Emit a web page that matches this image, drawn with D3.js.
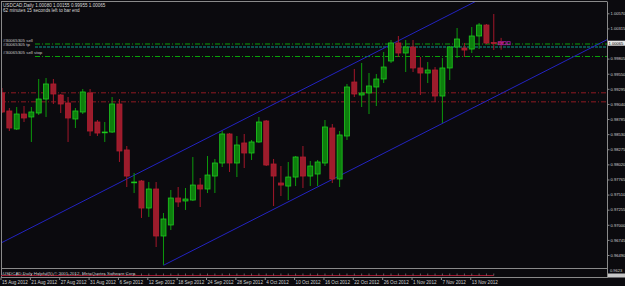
<!DOCTYPE html>
<html>
<head>
<meta charset="utf-8">
<script src="https://cdn.jsdelivr.net/npm/d3@7"></script>
<style>
  body { margin: 0; background: #000; }
  text { font-family: "Liberation Sans", Arial, sans-serif; }
</style>
</head>
<body>
<div id="chart"></div>
<script>
// daily bars, 15 Aug 2012 .. 19 Nov 2012
const dates = [
  "2012-08-15","2012-08-16","2012-08-17","2012-08-20","2012-08-21","2012-08-22","2012-08-23","2012-08-24","2012-08-27","2012-08-28",
  "2012-08-29","2012-08-30","2012-08-31","2012-09-03","2012-09-04","2012-09-05","2012-09-06","2012-09-07","2012-09-10","2012-09-11",
  "2012-09-12","2012-09-13","2012-09-14","2012-09-17","2012-09-18","2012-09-19","2012-09-20","2012-09-21","2012-09-24","2012-09-25",
  "2012-09-26","2012-09-27","2012-09-28","2012-10-01","2012-10-02","2012-10-03","2012-10-04","2012-10-05","2012-10-08","2012-10-09",
  "2012-10-10","2012-10-11","2012-10-12","2012-10-15","2012-10-16","2012-10-17","2012-10-18","2012-10-19","2012-10-22","2012-10-23",
  "2012-10-24","2012-10-25","2012-10-26","2012-10-29","2012-10-30","2012-10-31","2012-11-01","2012-11-02","2012-11-05","2012-11-06",
  "2012-11-07","2012-11-08","2012-11-09","2012-11-12","2012-11-13","2012-11-14","2012-11-15","2012-11-16","2012-11-19"
];
const open = [
  0.99225,0.98921,0.98617,0.98870,0.98820,0.98887,0.99123,0.99377,0.99191,0.99056,
  0.98786,0.98904,0.99225,0.98735,0.98558,0.98566,0.99039,0.98263,0.97714,0.97739,
  0.97283,0.97604,0.96811,0.96997,0.97452,0.97402,0.97418,0.97671,0.97604,0.97823,
  0.98043,0.98533,0.98043,0.98381,0.98212,0.98398,0.98752,0.98026,0.97705,0.97654,
  0.97806,0.98144,0.97823,0.97857,0.98043,0.98634,0.97773,0.98499,0.99410,0.99191,
  0.99225,0.99326,0.99461,0.99765,1.00069,0.99900,1.00001,0.99647,0.99562,0.99613,
  0.99174,0.99647,1.00001,0.99984,0.99967,1.00187,1.00372,1.00077,1.00080
];
const high = [
  0.99309,0.98971,0.98988,0.99005,0.98988,0.99461,0.99478,0.99461,0.99208,0.99157,
  0.98971,0.99292,0.99292,0.98769,0.98735,0.99157,0.99123,0.98330,0.97874,0.97756,
  0.97722,0.97722,0.97199,0.97587,0.97638,0.97621,0.98144,0.97790,0.98161,0.98111,
  0.98583,0.98549,0.98499,0.98533,0.98431,0.98820,0.98769,0.98111,0.97992,0.98060,
  0.98161,0.98330,0.98077,0.98094,0.98769,0.98701,0.98583,0.99377,0.99630,0.99731,
  0.99562,0.99545,0.99917,1.00119,1.00187,1.00119,1.00119,0.99832,0.99748,0.99663,
  0.99815,1.00018,1.00322,1.00069,1.00339,1.00406,1.00389,1.00558,1.00155
];
const low = [
  0.98887,0.98583,0.98600,0.98735,0.98398,0.98853,0.98820,0.99039,0.98887,0.98398,
  0.98634,0.98870,0.98499,0.98499,0.98398,0.98549,0.98060,0.97638,0.97536,0.97115,
  0.97132,0.96625,0.96322,0.96912,0.97300,0.97250,0.97402,0.97300,0.97536,0.97536,
  0.97975,0.97891,0.97806,0.97958,0.98094,0.98381,0.97992,0.97317,0.97486,0.97418,
  0.97654,0.97621,0.97654,0.97654,0.97992,0.97705,0.97638,0.98431,0.99157,0.98988,
  0.98870,0.99005,0.99393,0.99731,0.99832,0.99579,0.99579,0.99191,0.99393,0.99073,
  0.98718,0.99444,0.99815,0.99832,0.99900,0.99967,1.00052,0.99950,0.99955
];
const close = [
  0.98904,0.98634,0.98870,0.98803,0.98904,0.99123,0.99377,0.99208,0.99039,0.98803,
  0.98921,0.99242,0.98583,0.98549,0.98566,0.99039,0.98246,0.97823,0.97722,0.97283,
  0.97604,0.96811,0.97098,0.97452,0.97385,0.97435,0.97671,0.97604,0.97840,0.98043,
  0.98533,0.98043,0.98347,0.98212,0.98398,0.98735,0.98009,0.97823,0.97671,0.97806,
  0.98144,0.97823,0.97992,0.98060,0.98651,0.97773,0.98516,0.99326,0.99208,0.99225,
  0.99343,0.99461,0.99663,1.00069,0.99900,1.00001,0.99647,0.99562,0.99613,0.99174,
  0.99647,1.00001,1.00136,0.99950,1.00187,1.00372,1.00069,1.00060,1.00065
];

// price axis labels (right side)
const priceTicks = [1.00570,1.00315,1.00060,0.99805,0.99550,0.99295,0.99040,0.98785,0.98530,
                    0.98275,0.98020,0.97765,0.97510,0.97255,0.97000,0.96745,0.96490];
// time axis labels
const dateTicks = ["2012-08-15","2012-08-21","2012-08-27","2012-08-31","2012-09-06","2012-09-12",
                   "2012-09-18","2012-09-24","2012-09-28","2012-10-04","2012-10-10","2012-10-16",
                   "2012-10-22","2012-10-26","2012-11-01","2012-11-07","2012-11-13"];

// order lines
const orderNames  = ["#30065305 sell", "#30065305 tp", "#30065305 sell stop"];
const orderPrices = [1.00060, 1.00010, 0.99849];
// red level lines
const levelPrices = [0.99236, 0.99084];
// channel lines: [date, price] pairs
const upperChannel = [["2012-08-15", 0.96701], ["2012-11-13", 1.00737]];
const lowerChannel = [["2012-09-14", 0.96316], ["2012-11-19", 0.99215]];

const header1 = "USDCAD,Daily  1.00080 1.00155 0.99955 1.00065";
const header2 = "62 minutes 15 seconds left to bar end";
const lastPrice = 1.00065;

const width = 625, height = 286;
const plotLeft = 1, plotRight = 607, plotTop = 2, plotBottom = 268;

const svg = d3.select("#chart").append("svg")
  .attr("width", width).attr("height", height);

svg.append("rect").attr("width", width).attr("height", height).attr("fill", "#0b0a0e");

// x: one band per trading day, 7.34px step
const step = 7.34;
const x = d3.scaleBand()
  .domain(dates)
  .range([2 - step / 2, 2 - step / 2 + step * dates.length])
  .padding(0);
const cx = d => x(d) + x.bandwidth() / 2;

// y from the label positions
const y = d3.scaleLinear()
  .domain([priceTicks[priceTicks.length - 1], priceTicks[0]])
  .range([255, 13.3]);

svg.append("clipPath").attr("id", "plotclip")
  .append("rect").attr("x", plotLeft).attr("y", plotTop)
  .attr("width", plotRight - plotLeft).attr("height", plotBottom - plotTop);

const plot = svg.append("g").attr("clip-path", "url(#plotclip)");

// red levels
plot.selectAll(".lvl").data(levelPrices).enter().append("line")
  .attr("x1", plotLeft).attr("x2", plotRight)
  .attr("y1", d => y(d) + 0.5).attr("y2", d => y(d) + 0.5)
  .attr("stroke", "#8e1a22").attr("stroke-width", 1)
  .attr("stroke-dasharray", "5,2,1,2");

// order lines
const orderColors = ["#08a008", "#0a6a60", "#08a008"];
const orderDash = ["5,2,1,2", "3,1", "5,2,1,2"];
plot.selectAll(".ord").data(orderPrices).enter().append("line")
  .attr("x1", 35).attr("x2", plotRight)
  .attr("y1", d => y(d) + 0.5).attr("y2", d => y(d) + 0.5)
  .attr("stroke", (d, i) => orderColors[i])
  .attr("stroke-width", (d, i) => i === 1 ? 1.5 : 1)
  .attr("stroke-dasharray", (d, i) => orderDash[i]);

svg.selectAll(".ordtxt").data(orderNames).enter().append("text")
  .attr("x", 3).attr("y", (d, i) => [42, 46, 54][i])
  .attr("font-size", 4.4).attr("fill", "#c8c8c8")
  .text(d => d);

// channel lines, extended across the plot
function channel(pts) {
  const x1 = cx(pts[0][0]), y1 = y(pts[0][1]);
  const x2 = cx(pts[1][0]), y2 = y(pts[1][1]);
  const k = (y2 - y1) / (x2 - x1);
  return {x1: x1, y1: y1, x2: plotRight, y2: y1 + k * (plotRight - x1), k: k};
}
const up = channel(upperChannel);
plot.append("line")
  .attr("x1", plotLeft).attr("y1", up.y1 + up.k * (plotLeft - up.x1))
  .attr("x2", up.x2).attr("y2", up.y2)
  .attr("stroke", "#2323c0").attr("stroke-width", 1);
const lo = channel(lowerChannel);
plot.append("line")
  .attr("x1", lo.x1).attr("y1", lo.y1)
  .attr("x2", lo.x2).attr("y2", lo.y2)
  .attr("stroke", "#2323c0").attr("stroke-width", 1);

// candles
const bars = dates.map((d, i) => ({d: d, o: open[i], h: high[i], l: low[i], c: close[i]}));
const bodyW = 5;
const candle = plot.selectAll(".candle").data(bars).enter().append("g");
candle.append("line")
  .attr("x1", d => cx(d.d)).attr("x2", d => cx(d.d))
  .attr("y1", d => y(d.h)).attr("y2", d => y(d.l))
  .attr("stroke", d => d.c >= d.o ? "#0c9a0c" : "#a3172a").attr("stroke-width", 1);
candle.append("rect")
  .attr("x", d => cx(d.d) - bodyW / 2)
  .attr("y", d => y(Math.max(d.o, d.c)))
  .attr("width", bodyW)
  .attr("height", d => Math.max(0.8, Math.abs(y(d.o) - y(d.c))))
  .attr("fill", d => d.c >= d.o ? "#0d7f0d" : "#9c1c2c")
  .attr("stroke", d => d.c >= d.o ? "#1ec81e" : "#b21e30")
  .attr("stroke-width", 0.8);

// trade marks on the last bar
const markX = cx(dates[dates.length - 1]);
[[-3, 3], [1, 4], [6, 3]].forEach(m => {
  plot.append("rect").attr("x", markX + m[0]).attr("y", y(lastPrice) - 1.5)
    .attr("width", m[1]).attr("height", 3).attr("fill", "none")
    .attr("stroke", "#b01cb0").attr("stroke-width", 0.8);
});

// header texts
svg.append("text").attr("x", 3).attr("y", 7).attr("font-size", 4.6).attr("fill", "#d8d8d8").text(header1);
svg.append("text").attr("x", 3).attr("y", 12).attr("font-size", 4.6).attr("fill", "#d8d8d8").text(header2);

// frame
svg.append("line").attr("x1", plotLeft).attr("x2", plotRight).attr("y1", 1.5).attr("y2", 1.5).attr("stroke", "#8a8a8a");
svg.append("line").attr("x1", 1.5).attr("x2", 1.5).attr("y1", 1.5).attr("y2", 278).attr("stroke", "#8a8a8a");
svg.append("line").attr("x1", plotRight + 0.5).attr("x2", plotRight + 0.5).attr("y1", 1.5).attr("y2", 278).attr("stroke", "#8a8a8a");
svg.append("line").attr("x1", plotLeft).attr("x2", plotRight).attr("y1", 268.5).attr("y2", 268.5).attr("stroke", "#8a8a8a");
svg.append("line").attr("x1", plotLeft).attr("x2", plotRight).attr("y1", 277.5).attr("y2", 277.5).attr("stroke", "#8a8a8a");

// indicator strip
const strip = svg.append("g");
strip.append("line").attr("x1", plotLeft).attr("x2", cx(dates[dates.length - 2]))
  .attr("y1", 275.5).attr("y2", 275.5).attr("stroke", "#a01830").attr("stroke-width", 1);
strip.selectAll(".tk").data(dates.slice(0, -1)).enter().append("line")
  .attr("x1", d => cx(d)).attr("x2", d => cx(d))
  .attr("y1", 273.5).attr("y2", 275.5).attr("stroke", "#9a9a9a").attr("stroke-width", 0.6);
svg.append("text").attr("x", 3).attr("y", 275).attr("font-size", 4.4).attr("fill", "#c8c8c8")
  .text("USDCAD,Daily  Helpful(5)  \u00a9 2001-2012, MetaQuotes Software Corp.");

// price axis; the label hidden under the price box is left out
const shownTicks = priceTicks.filter(p => Math.abs(y(p) - y(lastPrice)) > 4);
const yAxis = d3.axisRight(y).tickValues(shownTicks).tickFormat(d3.format(".5f")).tickSize(2).tickPadding(1);
const ya = svg.append("g").attr("transform", `translate(${plotRight + 0.5},0)`).call(yAxis);
ya.select(".domain").remove();
ya.selectAll("line").attr("stroke", "#8a8a8a");
ya.selectAll("text").attr("font-size", 4.1).attr("fill", "#d0d0d0")
  .attr("font-family", "Liberation Sans, Arial, sans-serif");

// current price box
svg.append("rect").attr("x", plotRight + 1).attr("y", y(lastPrice) - 2.5)
  .attr("width", 17).attr("height", 5).attr("fill", "#e8e8e8");
svg.append("text").attr("x", plotRight + 1.5).attr("y", y(lastPrice) + 1.6)
  .attr("font-size", 4.1).attr("fill", "#000").text(d3.format(".5f")(lastPrice));

// strip scale labels
svg.append("text").attr("x", plotRight + 3).attr("y", 272).attr("font-size", 4).attr("fill", "#d0d0d0").text("0.9623");
svg.append("rect").attr("x", plotRight + 1).attr("y", 273.5).attr("width", 17).attr("height", 4).attr("fill", "#c8c8c8");

// time axis
const fmt = d3.timeFormat("%-d %b %Y");
const parse = d3.timeParse("%Y-%m-%d");
const xa = svg.append("g");
xa.selectAll("line").data(dateTicks).enter().append("line")
  .attr("x1", d => cx(d) - 1).attr("x2", d => cx(d) - 1)
  .attr("y1", 277.5).attr("y2", 280).attr("stroke", "#8a8a8a");
xa.selectAll("text").data(dateTicks).enter().append("text")
  .attr("x", d => cx(d)).attr("y", 284)
  .attr("font-size", 4.6).attr("fill", "#d0d0d0")
  .text(d => fmt(parse(d)));
</script>
</body>
</html>
